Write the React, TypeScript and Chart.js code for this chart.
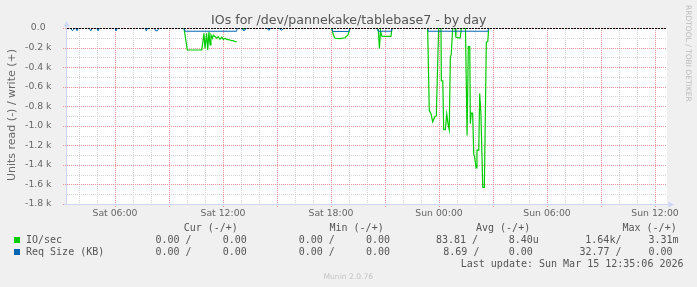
import React, { useEffect, useRef } from 'react';
import { Chart, registerables } from 'chart.js';

Chart.register(...registerables);

// Time axis in hours since Sat 00:00
const X_MIN = 3 + 20 / 60; // Sat 03:20
const X_MAX = 36 + 40 / 60; // Sun 12:40
const xGridHours = [4,5,6,7,8,9,10,11,12,13,14,15,16,17,18,19,20,21,22,23,24,25,26,27,28,29,30,31,32,33,34,35,36];
const xLabelHours = [6, 12, 18, 24, 30, 36];
const xTickLabels = ['Sat 06:00', 'Sat 12:00', 'Sat 18:00', 'Sun 00:00', 'Sun 06:00', 'Sun 12:00'];

const yGridValues = [-1800,-1700,-1600,-1500,-1400,-1300,-1200,-1100,-1000,-900,-800,-700,-600,-500,-400,-300,-200,-100,0];
const yLabelValues = [0, -200, -400, -600, -800, -1000, -1200, -1400, -1600, -1800];
const yTickLabels = ['0.0  ', '-0.2 k', '-0.4 k', '-0.6 k', '-0.8 k', '-1.0 k', '-1.2 k', '-1.4 k', '-1.6 k', '-1.8 k'];

// IO/sec (read, drawn negative)
const readHours = [
  9.83, 10.02, 10.82, 10.87, 10.94, 11.0, 11.09, 11.15, 11.22, 11.28, 11.33, 11.41, 11.46, 11.56, 11.65, 11.74, 11.83, 11.93, 12.02, 12.11, 12.2, 12.39, 12.48, 12.57, 12.67, 12.76, 12.77,
  13.05, 13.15, 13.25, 13.26,
  18.04, 18.13, 18.22, 18.5, 18.78, 18.94, 19.06, 19.07,
  20.57, 20.63, 20.69, 20.75, 20.83, 21.33, 21.39, 21.4,
  23.37, 23.46, 23.56, 23.65, 23.76, 23.85, 23.98, 24.11, 24.13, 24.21, 24.26, 24.35, 24.43, 24.5, 24.57, 24.63, 24.68, 24.76, 24.89, 24.94, 25.04, 25.18, 25.24, 25.47, 25.56, 25.63, 25.71, 25.74, 25.79, 25.87, 25.93, 25.98, 26.06, 26.11, 26.21, 26.26, 26.33, 26.43, 26.52, 26.63, 26.71, 26.76,
];
const readValues = [
  0, -225, -225, -157, -55, -208, -55, -225, -38, -174, -72, -105, -72, -89, -105, -89, -116, -95, -116, -105, -116, -123, -130, -130, -140, -140, null,
  0, -12, 0, null,
  0, -70, -105, -108, -100, -72, 0, null,
  0, -20, -210, -30, -85, -85, 0, null,
  0, -845, -880, -960, -910, -900, 0, 0, -540, -540, -1040, -1040, -880, -980, -1040, -300, -270, 0, 0, -95, -100, -100, 0, 0, -1100, -190, -190, -980, -870, -870, -1290, -1320, -1430, -1250, -1250, -670, -880, -1630, -1630, -146, -140, 0,
];

// Req Size (KB) (read, drawn negative)
const reqHours = [
  3.5, 3.64, 3.78, 3.79,
  3.82, 3.89, 3.96, 3.97,
  4.56, 4.65, 4.74, 4.75,
  4.98, 5.06, 5.13, 5.14,
  6.0, 6.06, 6.13, 6.14,
  7.67, 7.74, 7.82, 7.83,
  8.18, 8.26, 8.36, 8.44, 8.45,
  9.83, 9.89, 12.76, 12.8, 12.81,
  13.0, 13.1, 13.2, 13.3, 13.31,
  14.44, 14.55, 14.66, 14.67,
  15.1, 15.25, 15.4, 15.41,
  18.04, 18.1, 19.0, 19.06, 19.07,
  20.57, 20.62, 21.35, 21.39, 21.4,
  23.37, 23.4, 26.72, 26.76,
];
const reqValues = [
  0, -28, 0, null,
  0, -28, 0, null,
  0, -30, 0, null,
  0, -28, 0, null,
  0, -30, 0, null,
  0, -30, 0, null,
  0, -28, -28, 0, null,
  0, -33, -33, 0, null,
  0, -22, -26, 0, null,
  0, -24, 0, null,
  0, -24, 0, null,
  0, -35, -35, 0, null,
  0, -33, -33, 0, null,
  0, -33, -33, 0,
];

const legendHeaders = ['Cur (-/+)', 'Min (-/+)', 'Avg (-/+)', 'Max (-/+)'];
const ioRow = ['IO/sec', '0.00 /', '0.00', '0.00 /', '0.00', '83.81 /', '8.40u', '1.64k/', '3.31m'];
const reqRow = ['Req Size (KB)', '0.00 /', '0.00', '0.00 /', '0.00', '8.69 /', '0.00', '32.77 /', '0.00'];
const lastUpdate = 'Last update: Sun Mar 15 12:35:06 2026';
const titleText = 'IOs for /dev/pannekake/tablebase7 - by day';
const yTitle = 'Units read (-) / write (+)';
const sideText = 'RRDTOOL / TOBI OETIKER';
const footer = 'Munin 2.0.76';

const GREEN = '#00cc00';
const BLUE = '#0066b3';
const GRID_DOT = 'rgb(212,212,212)';
const MGRID_DOT = 'rgb(234,150,150)';
const AXIS = '#cfd6f8';
const FONT = '#666666';

const toPoints = (hs: number[], vs: (number | null)[]) => hs.map((h, i) => ({ x: h, y: vs[i] }));

const muninPlugin = {
  id: 'muninDeco',
  beforeDraw(chart: any) {
    const { ctx, chartArea: a } = chart;
    ctx.save();
    ctx.fillStyle = '#f0f0f0';
    ctx.fillRect(0, 0, chart.width, chart.height);
    ctx.fillStyle = '#ffffff';
    ctx.fillRect(a.left, a.top, a.right - a.left, a.bottom - a.top);
    ctx.restore();
  },
  beforeDatasetsDraw(chart: any) {
    const { ctx, chartArea: a, scales } = chart;
    ctx.save();
    const top = Math.round(a.top);
    const bottom = Math.round(a.bottom);
    const left = Math.round(a.left);
    const right = Math.round(a.right);
    [false, true].forEach((pass) => {
      xGridHours.forEach((h) => {
        const major = h % 3 === 0;
        if (major !== pass) return;
        const x = Math.round(scales.x.getPixelForValue(h));
        ctx.fillStyle = major ? MGRID_DOT : GRID_DOT;
        for (let y = top; y < bottom + (major ? 3 : 2); y += 2) ctx.fillRect(x, y, 1, 1);
      });
      yGridValues.forEach((v) => {
        const major = v % 200 === 0;
        if (major !== pass) return;
        const y = Math.round(scales.y.getPixelForValue(v));
        ctx.fillStyle = major ? MGRID_DOT : GRID_DOT;
        for (let x = major ? left - 4 : left; x < right; x += 2) ctx.fillRect(x, y, 1, 1);
      });
    });
    ctx.restore();
  },
  afterDatasetsDraw(chart: any) {
    const { ctx, chartArea: a } = chart;
    const y0 = Math.round(chart.scales.y.getPixelForValue(0)) + 0.5;
    ctx.save();
    ctx.strokeStyle = '#000000';
    ctx.lineWidth = 1;
    ctx.setLineDash([2, 1]);
    ctx.beginPath();
    ctx.moveTo(a.left, y0);
    ctx.lineTo(a.right, y0);
    ctx.stroke();
    ctx.restore();
  },
  afterDraw(chart: any) {
    const { ctx, chartArea: a } = chart;
    ctx.save();
    ctx.strokeStyle = AXIS;
    ctx.fillStyle = AXIS;
    ctx.lineWidth = 1;
    ctx.setLineDash([]);
    ctx.beginPath();
    ctx.moveTo(a.left - 0.5, a.bottom + 1);
    ctx.lineTo(a.left - 0.5, a.top - 3);
    ctx.moveTo(a.left - 3, a.bottom + 0.5);
    ctx.lineTo(a.right + 2, a.bottom + 0.5);
    ctx.stroke();
    ctx.beginPath();
    ctx.moveTo(a.left - 0.5, a.top - 7);
    ctx.lineTo(a.left - 3.5, a.top - 1.5);
    ctx.lineTo(a.left + 2.5, a.top - 1.5);
    ctx.closePath();
    ctx.fill();
    ctx.beginPath();
    ctx.moveTo(a.right + 7, a.bottom + 0.5);
    ctx.lineTo(a.right + 1.5, a.bottom - 2.5);
    ctx.lineTo(a.right + 1.5, a.bottom + 3.5);
    ctx.closePath();
    ctx.fill();

    const txt = (s: string, x: number, y: number, font: string, color: string, align: CanvasTextAlign = 'left') => {
      ctx.font = font;
      ctx.fillStyle = color;
      ctx.textAlign = align;
      ctx.textBaseline = 'alphabetic';
      ctx.fillText(s, x, y);
    };

    txt(titleText, 348.7, 24, '12.6px "DejaVu Sans"', '#555555', 'center');

    ctx.save();
    ctx.translate(15, 115);
    ctx.rotate(-Math.PI / 2);
    txt(yTitle, 0, 0, '11px "DejaVu Sans"', FONT, 'center');
    ctx.restore();

    ctx.save();
    ctx.translate(685.5, 5);
    ctx.rotate(Math.PI / 2);
    txt(sideText, 0, 0, '7.5px "DejaVu Sans"', '#bbbbbb', 'left');
    ctx.restore();

    const mono = '10px "DejaVu Sans Mono"';
    const LC = '#555555';
    const hx = [183.7, 329.5, 476, 622.5];
    legendHeaders.forEach((h, i) => txt(h, hx[i], 231, mono, LC));
    const colX1 = [26, 155.5, 222.7, 298.7, 366, 436, 508.7, 585.3, 648.5];
    const colX2 = [26, 155.5, 222.7, 298.7, 366, 443.3, 508.7, 579.5, 648.5];
    ioRow.forEach((s, i) => txt(s, colX1[i], 243, mono, LC));
    reqRow.forEach((s, i) => txt(s, colX2[i], 255, mono, LC));
    ctx.fillStyle = GREEN;
    ctx.fillRect(14, 237, 6, 6);
    ctx.fillStyle = BLUE;
    ctx.fillRect(14, 249, 6, 6);
    txt(lastUpdate, 683.5, 267, mono, LC, 'right');
    txt(footer, 348.3, 279, '7.6px "DejaVu Sans"', '#c4c4c4', 'center');
    ctx.restore();
  },
};

export default function App() {
  const ref = useRef<HTMLCanvasElement>(null);
  useEffect(() => {
    document.body.style.margin = '0';
    const canvas = ref.current!;
    const chart = new Chart(canvas, {
      type: 'line',
      data: {
        datasets: [
          {
            label: 'Req Size (KB)',
            data: toPoints(reqHours, reqValues) as any,
            borderColor: BLUE,
            borderWidth: 1,
            pointRadius: 0,
            tension: 0,
            fill: false,
            spanGaps: false,
            order: 0,
          },
          {
            label: 'IO/sec',
            data: toPoints(readHours, readValues) as any,
            borderColor: GREEN,
            borderWidth: 1.2,
            pointRadius: 0,
            tension: 0,
            fill: false,
            spanGaps: false,
            order: 1,
          },
        ],
      },
      options: {
        responsive: false,
        animation: false,
        devicePixelRatio: 1,
        events: [],
        layout: { padding: { left: 0, right: 30, top: 28, bottom: 0 } },
        plugins: {
          legend: { display: false },
          title: { display: false },
          tooltip: { enabled: false },
        },
        scales: {
          x: {
            type: 'linear',
            min: X_MIN,
            max: X_MAX,
            afterBuildTicks: (s: any) => {
              s.ticks = xLabelHours.map((v) => ({ value: v }));
            },
            afterFit: (s: any) => {
              s.height = 83;
            },
            ticks: {
              autoSkip: false,
              maxRotation: 0,
              minRotation: 0,
              padding: -4,
              color: FONT,
              font: { family: '"DejaVu Sans"', size: 9.3 },
              callback: (v: any) => {
                const i = xLabelHours.indexOf(Math.round(Number(v)));
                return i >= 0 ? xTickLabels[i] : '';
              },
            },
            grid: { display: false },
            border: { display: false },
          },
          y: {
            type: 'linear',
            min: -1800,
            max: 0,
            afterBuildTicks: (s: any) => {
              s.ticks = yLabelValues.map((v) => ({ value: v }));
            },
            afterFit: (s: any) => {
              s.width = 67;
            },
            ticks: {
              autoSkip: false,
              padding: 7.5,
              color: FONT,
              font: { family: '"DejaVu Sans"', size: 9.3 },
              callback: (v: any) => {
                const i = yLabelValues.indexOf(Math.round(Number(v)));
                return i >= 0 ? yTickLabels[i] : '';
              },
            },
            grid: { display: false },
            border: { display: false },
          },
        },
      },
      plugins: [muninPlugin],
    } as any);
    return () => chart.destroy();
  }, []);
  return (
    <div style={{ position: 'absolute', left: 0, top: 0, width: 697, height: 287 }}>
      <canvas ref={ref} width={697} height={287} style={{ display: 'block', width: 697, height: 287 }} />
    </div>
  );
}
